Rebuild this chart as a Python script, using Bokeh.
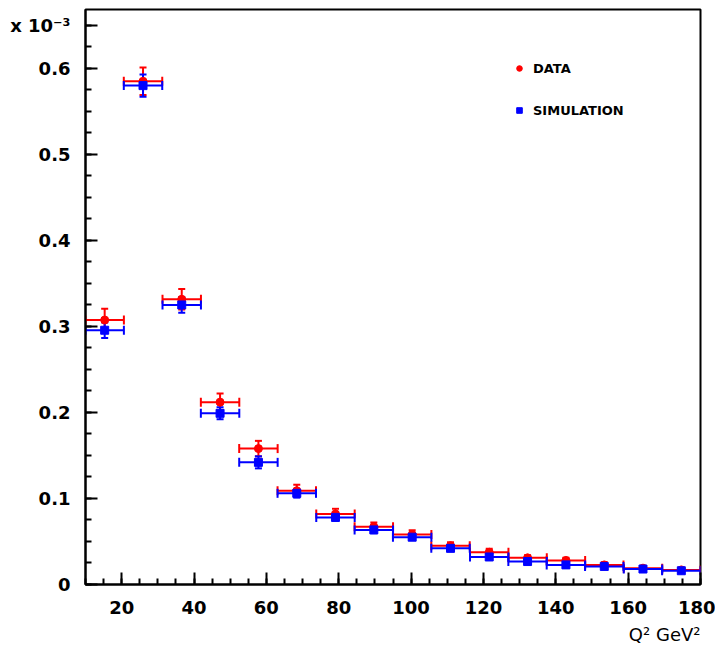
from bokeh.plotting import figure
from bokeh.models import (ColumnDataSource, Whisker, TeeHead, Range1d, FixedTicker,
                          SingleIntervalTicker, Legend, LegendItem, Title)
from bokeh.embed import file_html
from bokeh.resources import INLINE

# ---- data (y in units of 1e-3) ----
q2_centers = [15.3, 25.9, 36.6, 47.2, 57.8, 68.4, 79.1, 89.7, 100.3, 110.9,
              121.6, 132.2, 142.8, 153.4, 164.1, 174.7]
bin_half_width = 5.3125
data_y = [0.3075, 0.585, 0.3316, 0.212, 0.158, 0.109, 0.082, 0.067, 0.058, 0.045,
          0.0375, 0.031, 0.028, 0.0228, 0.019, 0.017]
data_err = [0.013, 0.016, 0.012, 0.010, 0.009, 0.007, 0.006, 0.005, 0.005, 0.004,
            0.004, 0.003, 0.003, 0.003, 0.002, 0.002]
sim_y = [0.2956, 0.580, 0.325, 0.199, 0.142, 0.106, 0.078, 0.0635, 0.055, 0.042,
         0.032, 0.0267, 0.0228, 0.021, 0.018, 0.016]
sim_err = [0.009, 0.0128, 0.009, 0.007, 0.007, 0.005, 0.004, 0.004, 0.003, 0.003,
           0.003, 0.002, 0.002, 0.002, 0.002, 0.002]
y_ticks = [0, 0.1, 0.2, 0.3, 0.4, 0.5, 0.6]
y_scale_label = "x 10\u207b\u00b3"
y_scale_label_pos = 0.65
x_tick_interval = 20

FONT = "DejaVu Sans"


def make_source(y, err):
    return ColumnDataSource(dict(
        x=q2_centers,
        y=y,
        xlo=[c - bin_half_width for c in q2_centers],
        xhi=[c + bin_half_width for c in q2_centers],
        ylo=[a - e for a, e in zip(y, err)],
        yhi=[a + e for a, e in zip(y, err)],
    ))


p = figure(width=715, height=650, output_backend="svg", toolbar_location=None,
           x_range=Range1d(10, 180), y_range=Range1d(0, 0.6685),
           min_border_left=85, min_border_right=15, min_border_top=9,
           min_border_bottom=66)
p.grid.visible = False
p.outline_line_color = "black"
p.outline_line_width = 2
p.background_fill_color = "white"
p.border_fill_color = "white"

for ax in (p.xaxis[0], p.yaxis[0]):
    ax.axis_line_width = 2
    ax.major_tick_line_width = 2
    ax.minor_tick_line_width = 2
    ax.major_tick_in = 12
    ax.major_tick_out = 0
    ax.minor_tick_in = 6
    ax.minor_tick_out = 0
    ax.major_label_text_font = FONT
    ax.major_label_text_font_style = "bold"
    ax.major_label_text_font_size = "18px"
    ax.major_label_text_color = "black"

p.xaxis.ticker = SingleIntervalTicker(interval=x_tick_interval, num_minor_ticks=4)
p.xaxis.major_label_standoff = 16
minor_y = [i * 0.025 for i in range(0, 27)]
p.yaxis.ticker = FixedTicker(ticks=y_ticks + [y_scale_label_pos], minor_ticks=minor_y)
p.yaxis.major_label_overrides = {0: "0", y_scale_label_pos: y_scale_label}
p.yaxis.major_label_standoff = 15

series = [
    (make_source(data_y, data_err), "red", "circle", 8, "DATA"),
    (make_source(sim_y, sim_err), "blue", "square", 8, "SIMULATION"),
]
items = []
for src, color, marker, size, label in series:
    p.add_layout(Whisker(source=src, base="x", lower="ylo", upper="yhi",
                         dimension="height", line_color=color, line_width=2,
                         lower_head=TeeHead(size=7, line_color=color, line_width=2),
                         upper_head=TeeHead(size=7, line_color=color, line_width=2)))
    p.add_layout(Whisker(source=src, base="y", lower="xlo", upper="xhi",
                         dimension="width", line_color=color, line_width=2,
                         lower_head=TeeHead(size=9, line_color=color, line_width=2),
                         upper_head=TeeHead(size=9, line_color=color, line_width=2)))
    r = p.scatter("x", "y", source=src, marker=marker, size=size,
                  fill_color=color, line_color=color)
    items.append(LegendItem(label=label, renderers=[r]))

legend = Legend(items=items, location=(417, 454), border_line_alpha=0,
                background_fill_alpha=0, label_text_font=FONT,
                label_text_font_style="bold", label_text_font_size="13px",
                label_text_color="black",
                glyph_width=14, glyph_height=20, label_height=20, spacing=22,
                label_standoff=7, padding=10, margin=0)
p.add_layout(legend, "center")

p.add_layout(Title(text="Q\u00b2 GeV\u00b2", align="right", text_font=FONT,
                   text_font_style="normal", text_font_size="18px",
                   text_color="black", standoff=11), "below")

open("out.html", "w").write(file_html(p, INLINE))
